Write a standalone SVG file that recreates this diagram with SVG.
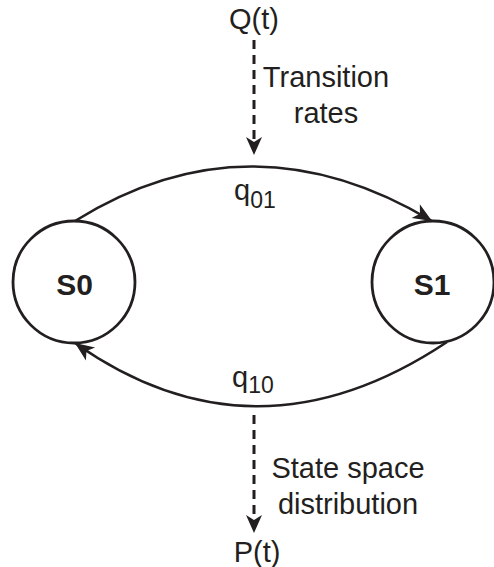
<svg xmlns="http://www.w3.org/2000/svg" width="494" height="567" viewBox="0 0 494 567">
  <style>
    .state { fill: #ffffff; stroke: #231f20; stroke-width: 2.8; }
    .edge { fill: none; stroke: #231f20; stroke-width: 2.6; }
    .flow { fill: none; stroke: #231f20; stroke-width: 3; stroke-dasharray: 9 6; }
    .lbl { font-family: "Liberation Sans", Arial, sans-serif; font-size: 29px; fill: #231f20; }
    .sub { font-size: 23px; }
    .name { font-family: "Liberation Sans", Arial, sans-serif; font-size: 30px; font-weight: bold; fill: #231f20; }
  </style>
  <defs>
    <marker id="head" viewBox="-20 -10 21 20" refX="0" refY="0" markerWidth="21" markerHeight="20" markerUnits="userSpaceOnUse" orient="auto">
      <path d="M0,0 L-19,-8 L-14,0 L-19,8 Z" fill="#231f20"/>
    </marker>
    <marker id="flowhead" viewBox="-20 -10 21 20" refX="-8" refY="0" markerWidth="21" markerHeight="20" markerUnits="userSpaceOnUse" orient="auto">
      <path d="M0,0 L-18,-8 L-13,0 L-18,8 Z" fill="#231f20"/>
    </marker>
  </defs>

  <!-- transitions and input/output flows -->
  <g id="connectors">
    <path class="edge" d="M75,221 Q250,112 432,221" marker-end="url(#head)"/>
    <path class="edge" d="M447,342 Q255,470 75,343" marker-end="url(#head)"/>
    <path class="flow" d="M254,40 L254,147" marker-end="url(#flowhead)"/>
    <path class="flow" d="M254,415 L254,525" marker-end="url(#flowhead)"/>
  </g>

  <g id="S0">
    <circle class="state" cx="74" cy="282" r="61"/>
    <text class="name" x="74.5" y="295" text-anchor="middle">S0</text>
  </g>

  <g id="S1">
    <circle class="state" cx="433" cy="282" r="61"/>
    <text class="name" x="432" y="295" text-anchor="middle">S1</text>
  </g>

  <g id="labels">
    <text class="lbl" x="254" y="29" text-anchor="middle">Q(t)</text>
    <text class="lbl" x="326" y="87" text-anchor="middle">Transition</text>
    <text class="lbl" x="326" y="123" text-anchor="middle">rates</text>
    <text class="lbl" x="234" y="200">q<tspan class="sub" dy="8">01</tspan></text>
    <text class="lbl" x="232" y="387">q<tspan class="sub" dy="6">10</tspan></text>
    <text class="lbl" x="348" y="478" text-anchor="middle">State space</text>
    <text class="lbl" x="348" y="514" text-anchor="middle">distribution</text>
    <text class="lbl" x="257" y="562" text-anchor="middle">P(t)</text>
  </g>
</svg>
